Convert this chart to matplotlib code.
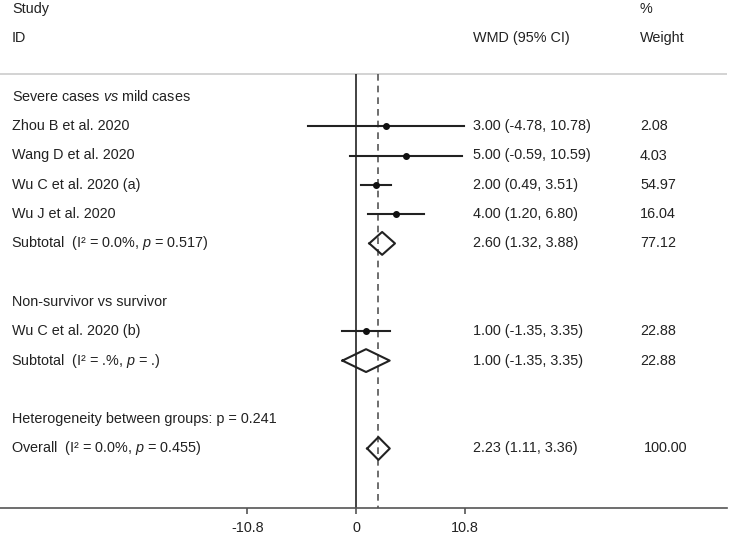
import matplotlib
import matplotlib.pyplot as plt
from matplotlib.transforms import blended_transform_factory

matplotlib.use('Agg')

# Study rows (row index counted from top, one row per text line)
study_rows = [4, 5, 6, 7, 11]
study_names = ['Zhou B et al. 2020', 'Wang D et al. 2020', 'Wu C et al. 2020 (a)',
               'Wu J et al. 2020', 'Wu C et al. 2020 (b)']
study_wmd = [3.00, 5.00, 2.00, 4.00, 1.00]
study_lo = [-4.78, -0.59, 0.49, 1.20, -1.35]
study_hi = [10.78, 10.59, 3.51, 6.80, 3.35]
study_weight = ['2.08', '4.03', '54.97', '16.04', '22.88']

# Pooled estimates (subtotals and overall)
pooled_rows = [8, 12, 15]
pooled_labels = [r'Subtotal  (I² = 0.0%, $\it{p}$ = 0.517)',
                 r'Subtotal  (I² = .%, $\it{p}$ = .)',
                 r'Overall  (I² = 0.0%, $\it{p}$ = 0.455)']
pooled_wmd = [2.60, 1.00, 2.23]
pooled_lo = [1.32, -1.35, 1.11]
pooled_hi = [3.88, 3.35, 3.36]
pooled_weight = ['77.12', '22.88', '100.00']

heading_rows = [3, 10, 14]
heading_labels = [r'Severe cases $\it{vs}$ mild cases', 'Non-survivor vs survivor',
                  'Heterogeneity between groups: p = 0.241']

overall_effect = 2.23
tick_values = [-10.8, 0, 10.8]
tick_labels = ['-10.8', '0', '10.8']

plt.rcParams['font.family'] = ['Liberation Sans', 'DejaVu Sans']
plt.rcParams['mathtext.fontset'] = 'custom'
plt.rcParams['mathtext.it'] = 'Liberation Sans:italic'
plt.rcParams['mathtext.rm'] = 'Liberation Sans'
fs = 10.4
tc = '#222222'

fig = plt.figure(figsize=(7.30, 5.37), dpi=100)
ax = fig.add_axes([0, 29 / 537, 727 / 730, 508 / 537])

# x scale: 0 at px 356, ~10.05 px per unit
ax.set_xlim(-356 / 10.05, (727 - 356) / 10.05)
row_h = 29.3
ax.set_ylim((508 - 9) / row_h, -9 / row_h)

top = 65 / row_h  # separator line position

ax.axhline(top, color='#cccccc', lw=1.2)
ax.plot([0, 0], [top, 20], color=tc, lw=1.2, solid_capstyle='butt')
ax.plot([overall_effect] * 2, [top, 20], color='#555555', lw=1.2,
        dashes=(4, 3))

for r, m, lo, hi in zip(study_rows, study_wmd, study_lo, study_hi):
    ax.plot([lo, hi], [r, r], color=tc, lw=1.5)
    ax.plot(m, r, 'o', color='#111111', ms=4)

for r, m, lo, hi in zip(pooled_rows, pooled_wmd, pooled_lo, pooled_hi):
    h = 0.39
    ax.plot([lo, m, hi, m, lo], [r, r - h, r, r + h, r], color=tc, lw=1.5)

# Text columns
tr = blended_transform_factory(fig.transFigure, ax.transData)
x_lab, x_ci, x_w = 12 / 730, 473 / 730, 640 / 730


def put(x, y, s):
    ax.text(x, y, s, transform=tr, fontsize=fs, va='center', color=tc)


put(x_lab, 0, 'Study')
put(x_lab, 1, 'ID')
put(x_ci, 1, 'WMD (95% CI)')
put(x_w, 0, '%')
put(x_w, 1, 'Weight')

for r, lab in zip(heading_rows, heading_labels):
    put(x_lab, r, lab)

for r, name, m, lo, hi, w in zip(study_rows, study_names, study_wmd, study_lo, study_hi, study_weight):
    put(x_lab, r, name)
    put(x_ci, r, f'{m:.2f} ({lo:.2f}, {hi:.2f})')
    put(x_w, r, w)

for r, lab, m, lo, hi, w in zip(pooled_rows, pooled_labels, pooled_wmd, pooled_lo, pooled_hi, pooled_weight):
    put(x_lab - 1 / 730, r, lab)
    put(x_ci, r, f'{m:.2f} ({lo:.2f}, {hi:.2f})')
    put(x_w + (4 / 730 if w == '100.00' else 0), r, w)

# Axis styling
for s in ['top', 'left', 'right']:
    ax.spines[s].set_visible(False)
ax.spines['bottom'].set_color('#555555')
ax.spines['bottom'].set_linewidth(1.2)
ax.set_yticks([])
ax.set_xticks(tick_values)
ax.set_xticklabels(tick_labels, fontsize=fs, color=tc)
ax.tick_params(axis='x', direction='out', length=4, width=1.2, color='#555555', pad=5)

fig.savefig('out.png', dpi=100)
